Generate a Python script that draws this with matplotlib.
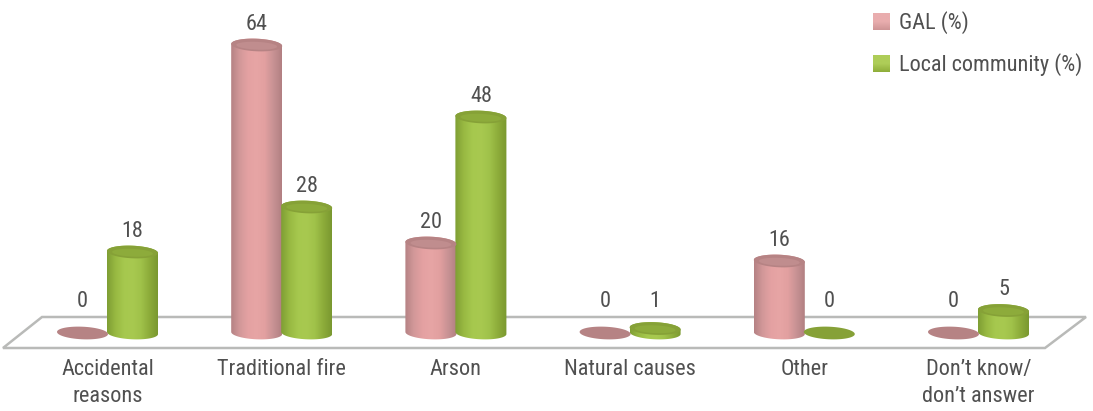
import numpy as np
import matplotlib
matplotlib.use("Agg")
import matplotlib.pyplot as plt
from matplotlib.colors import LinearSegmentedColormap
from matplotlib.patches import Polygon, PathPatch
from matplotlib.path import Path

categories = ["Accidental\nreasons", "Traditional fire", "Arson",
              "Natural causes", "Other", "Don\u2019t know/\ndon\u2019t answer"]
gal = [0, 64, 20, 0, 16, 0]
community = [18, 28, 48, 1, 0, 5]
series_names = ["GAL (%)", "Local community (%)"]

W, H = 1093, 411
plt.rcParams["font.family"] = ["Roboto Condensed", "Roboto", "DejaVu Sans"]
TEXT = "#505050"
FONT_SIZE = 16

fig = plt.figure(figsize=(W / 100, H / 100), dpi=100)
ax = fig.add_axes([0, 0, 1, 1])

# Linear scales: one category step is 174.2 px, one percent is 4.5 px
STEP, UNIT, X0, Y0 = 174.2, 4.5, 107.5, 333.0
XLIM = (-X0 / STEP, (W - X0) / STEP)
YLIM = ((Y0 - H) / UNIT, Y0 / UNIT)


def px(x, y):
    return (x - X0) / STEP, (Y0 - y) / UNIT


BAR_W = 51 / STEP
OFFSET = 25 / STEP
RY = 6.3 / UNIT
TILT = -0.07 * STEP / UNIT * 0.6

pink_map = LinearSegmentedColormap.from_list(
    "pink", ["#b58284", "#d29899", "#e4a1a2", "#e7a5a5", "#e2a0a0", "#c89294", "#b28082"])
green_map = LinearSegmentedColormap.from_list(
    "green", ["#7f9e34", "#98b942", "#a6c84e", "#a8c950", "#a0c24a", "#8dac3a", "#7a9830"])
TOPS = {"pink": ("#b68384", "#c08d8e"), "green": ("#86a137", "#8dab3b")}


def ellipse_pts(cx, cy, a, b, t0=0.0, t1=2 * np.pi, n=60):
    t = np.linspace(t0, t1, n)
    x = cx + a * np.cos(t)
    return x, cy + b * np.sin(t) + TILT * (x - cx)


def cylinder(cx, value, cmap, tops):
    a = BAR_W / 2
    if value > 0:
        xb, yb = ellipse_pts(cx, 0, a, RY, np.pi, 2 * np.pi)
        xt, yt = ellipse_pts(cx, value, a, RY, 0, np.pi)
        verts = np.r_[np.c_[xb, yb], np.c_[xt, yt], [[xb[0], yb[0]]]]
        body = Path(verts, closed=True)
        img = ax.imshow(np.linspace(0, 1, 128)[None, :], cmap=cmap, aspect="auto",
                        extent=(cx - a, cx + a, -RY * 2, value + RY * 2), zorder=3)
        img.set_clip_path(PathPatch(body, transform=ax.transData))
    x, y = ellipse_pts(cx, value, a, RY)
    ax.fill(x, y, color=tops[0], lw=0, zorder=3.1)
    if value > 0:
        x, y = ellipse_pts(cx, value - RY * 0.12, a * 0.8, RY * 0.62)
        ax.fill(x, y, color=tops[1], lw=0, zorder=3.2)


def value_label(cx, value):
    # Labels of very short bars sit above the back edge of the floor
    y = max(value + 4.6, px(0, 301)[1])
    ax.text(cx, y, str(value), ha="center", va="center",
            fontsize=FONT_SIZE, color=TEXT, zorder=5)


# Floor of the chart
corners = [px(3, 348), px(42, 317), px(1086, 317), px(1045, 348)]
ax.add_patch(Polygon(corners, closed=True, fc="white", ec="#b9bab8", lw=1.8, zorder=1))

positions = np.arange(len(categories))
for i in positions:
    cylinder(i - OFFSET, gal[i], pink_map, TOPS["pink"])
    cylinder(i + OFFSET, community[i], green_map, TOPS["green"])
    value_label(i - OFFSET, gal[i])
    value_label(i + OFFSET, community[i])
    ax.text(i, px(0, 359)[1], categories[i], ha="center", va="top", fontsize=FONT_SIZE,
            color=TEXT, linespacing=1.4, zorder=5)

# Legend swatches and labels
legend_rows = [(21.5, "#e9adae", "#cf9596"), (63.5, "#aecd58", "#8fae3a")]
for (yc, c1, c2), name in zip(legend_rows, series_names):
    x0, y0 = px(873, yc + 8.5)
    x1, y1 = px(890, yc - 8.5)
    swatch = LinearSegmentedColormap.from_list("sw", [c2, c1, c1])
    ax.imshow(np.linspace(0, 1, 32)[:, None], cmap=swatch, aspect="auto", origin="lower",
              extent=(x0, x1, y0, y1), zorder=4)
    ax.text(*px(899, yc + 1), name, ha="left", va="center", fontsize=FONT_SIZE, color=TEXT, zorder=5)

ax.set_xlim(*XLIM)
ax.set_ylim(*YLIM)
ax.axis("off")
fig.savefig("out.png", dpi=100, facecolor="white")
